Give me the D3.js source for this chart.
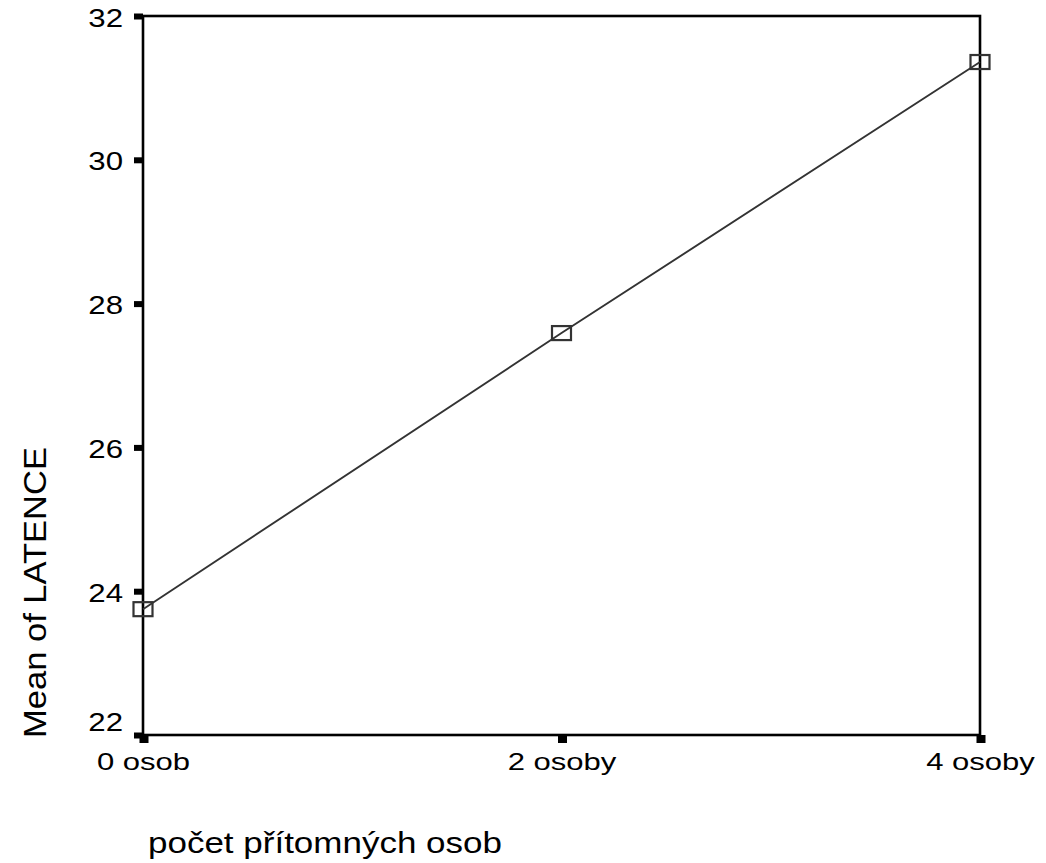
<!DOCTYPE html>
<html><head><meta charset="utf-8">
<script src="https://cdn.jsdelivr.net/npm/d3@7"></script>
<style>body{margin:0;background:#fff}svg{display:block}text{font-family:"Liberation Sans",Arial,sans-serif;fill:#000}</style>
</head><body><svg id="c" width="1046" height="863"></svg>
<script>
const categories = ["0 osob", "2 osoby", "4 osoby"];
const values = [23.75, 27.59, 31.36];
const yTicks = [22, 24, 26, 28, 30, 32];
const xTitle = "počet přítomných osob";
const yTitle = "Mean of LATENCE";

const svg = d3.select("#c");
const L = 143, R = 980, T = 16, B = 735;
const x = d3.scalePoint().domain(categories).range([L, R]);
const y = d3.scaleLinear().domain([22, 32]).range([B, T]);

// frame
svg.append("rect").attr("x", L).attr("y", T).attr("width", R - L).attr("height", B - T)
  .attr("fill", "none").attr("stroke", "#000").attr("stroke-width", 2.6);

// y axis ticks
const yAxis = d3.axisLeft(y).tickValues(yTicks).tickSize(0).tickPadding(0).tickFormat(d3.format("d"));
const gy = svg.append("g").attr("transform", `translate(${L},0)`).call(yAxis);
gy.select(".domain").remove();
gy.selectAll(".tick text").remove();
gy.selectAll(".tick").append("rect").attr("x", -9).attr("y", -3).attr("width", 9).attr("height", 6).attr("fill", "#000");
gy.selectAll(".tick").append("text")
  .attr("text-anchor", "end")
  .attr("transform", d => `translate(-20,${d === 22 ? -5 : 10}) scale(1.2,1)`)
  .style("font-size", "26px").text(d => d);

// x axis ticks
const xAxis = d3.axisBottom(x).tickSize(0).tickPadding(0);
const gx = svg.append("g").attr("transform", `translate(0,${B})`).call(xAxis);
gx.select(".domain").remove();
gx.selectAll(".tick text").remove();
gx.selectAll(".tick").append("rect").attr("x", -4).attr("y", 0).attr("width", 9).attr("height", 8).attr("fill", "#000");
gx.selectAll(".tick").append("text")
  .attr("text-anchor", "middle")
  .attr("transform", `translate(0,35) scale(1.35,1)`)
  .style("font-size", "23px").text(d => d);

// line
const data = categories.map((c, i) => ({c, v: values[i]}));
svg.append("path").datum(data)
  .attr("d", d3.line().x(d => x(d.c)).y(d => y(d.v)))
  .attr("fill", "none").attr("stroke", "#333").attr("stroke-width", 1.9);
svg.selectAll(".m").data(data).enter().append("rect")
  .attr("x", d => x(d.c) - 9.5).attr("y", d => y(d.v) - 7)
  .attr("width", 19).attr("height", 14)
  .attr("fill", "none").attr("stroke", "#333").attr("stroke-width", 2.2);

// titles
svg.append("text").attr("x", 148).attr("y", 853)
  .attr("textLength", 354).attr("lengthAdjust", "spacingAndGlyphs")
  .style("font-size", "30px").text(xTitle);
svg.append("text").attr("transform", "translate(46,738) rotate(-90)")
  .attr("textLength", 291).attr("lengthAdjust", "spacingAndGlyphs")
  .style("font-size", "32px").text(yTitle);
</script></body></html>
